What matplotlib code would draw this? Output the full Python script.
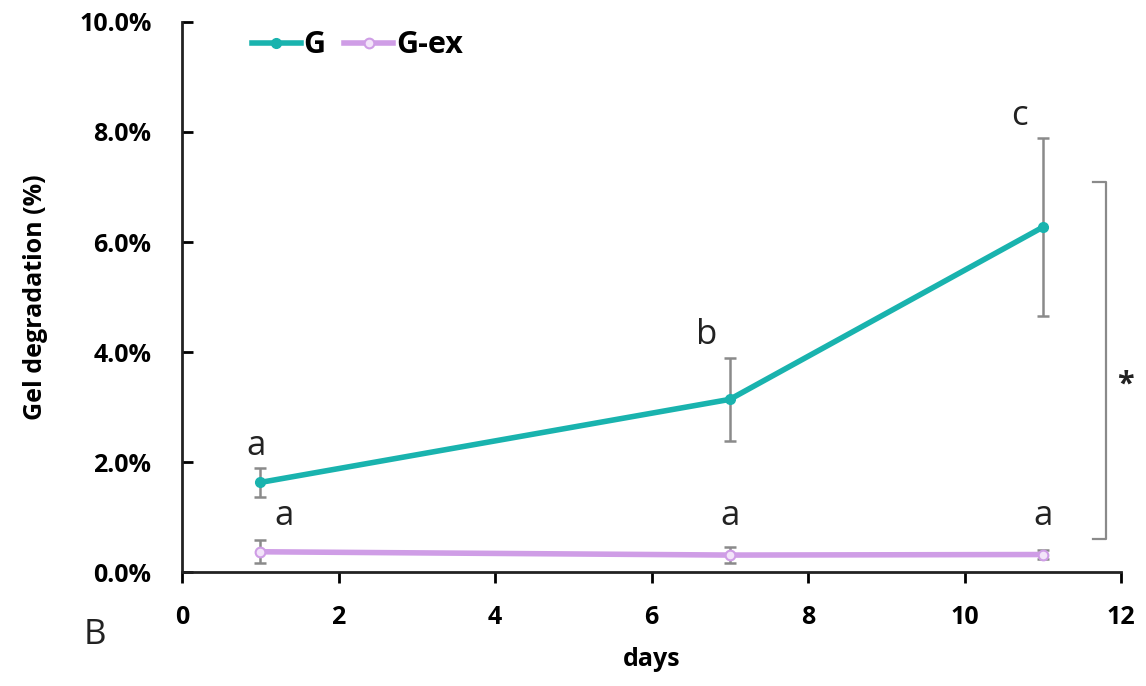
import matplotlib
matplotlib.use("Agg")
import matplotlib.pyplot as plt
from matplotlib.ticker import FuncFormatter

# --- DATA ---
days = [1, 7, 11]
g_mean = [1.63, 3.14, 6.27]
g_err = [0.26, 0.76, 1.62]
gex_mean = [0.37, 0.31, 0.32]
gex_err = [0.21, 0.14, 0.08]
g_letters = ["a", "b", "c"]
gex_letters = ["a", "a", "a"]

TEAL = "#19b3ae"
VIOLET = "#cf9de6"
GREY = "#8a8a8a"

plt.rcParams['font.family'] = ['Open Sans', 'DejaVu Sans']

fig = plt.figure(figsize=(11.46, 6.86), dpi=100)
ax = fig.add_axes([0.1588, 0.166, 0.8195, 0.802])

# error bars (grey) then lines on top
ax.errorbar(days, g_mean, yerr=g_err, fmt='none', ecolor=GREY, elinewidth=1.8, capsize=4, capthick=1.8, zorder=2)
ax.errorbar(days, gex_mean, yerr=gex_err, fmt='none', ecolor=GREY, elinewidth=1.8, capsize=4, capthick=1.8, zorder=2)
ax.plot(days, g_mean, color=TEAL, lw=4, marker='o', ms=7, label='G', zorder=3)
ax.plot(days, gex_mean, color=VIOLET, lw=4, marker='o', ms=7, mfc='#f3e4fa', mec=VIOLET, mew=1.5, label='G-ex', zorder=3)

# significance letters
for x, y, e, t in zip(days, g_mean, g_err, g_letters):
    dx = -0.05 if x == 1 else -0.3
    ax.text(x + dx, y + e + 0.1, t, fontsize=25, ha='center', va='bottom', color='#222222')
for x, y, e, t in zip(days, gex_mean, gex_err, gex_letters):
    dx = 0.3 if x == 1 else 0.0
    ax.text(x + dx, 0.72, t, fontsize=25, ha='center', va='bottom', color='#222222')

# bracket with star
bx0, bx1 = 11.64, 11.81
by0, by1 = 0.6, 7.09
ax.plot([bx0, bx1, bx1, bx0], [by1, by1, by0, by0], color=GREY, lw=1.6, clip_on=False)
ax.text(12.05, 3.4, '*', fontsize=22, fontweight='bold', ha='center', va='center', color='#222222')

ax.set_xlim(0, 12)
ax.set_ylim(0, 10)
ax.set_xticks(range(0, 13, 2))
ax.set_yticks([0, 2, 4, 6, 8, 10])
ax.yaxis.set_major_formatter(FuncFormatter(lambda v, p: f"{v:.1f}%"))
for s in ['top', 'right']:
    ax.spines[s].set_visible(False)
for s in ['left', 'bottom']:
    ax.spines[s].set_linewidth(2)
    ax.spines[s].set_color('#222222')
ax.tick_params(axis='y', direction='in', length=8, width=2, labelsize=18, pad=22)
ax.tick_params(axis='x', direction='out', length=8, width=2, labelsize=18, pad=16)
for lab in ax.get_xticklabels() + ax.get_yticklabels():
    lab.set_fontweight('bold')

ax.set_xlabel('days', fontsize=18, fontweight='bold', labelpad=12)
ax.set_ylabel('Gel degradation (%)', fontsize=18, fontweight='bold', labelpad=22)

leg = ax.legend(loc='upper left', bbox_to_anchor=(0.045, 1.035), ncol=2, frameon=False,
                handlelength=1.6, handletextpad=0.1, columnspacing=0.6,
                prop={'size': 22, 'weight': 'bold'})

fig.text(0.083, 0.075, 'B', fontsize=25, color='#222222', ha='center', va='center')

fig.savefig('out.png', dpi=100)
